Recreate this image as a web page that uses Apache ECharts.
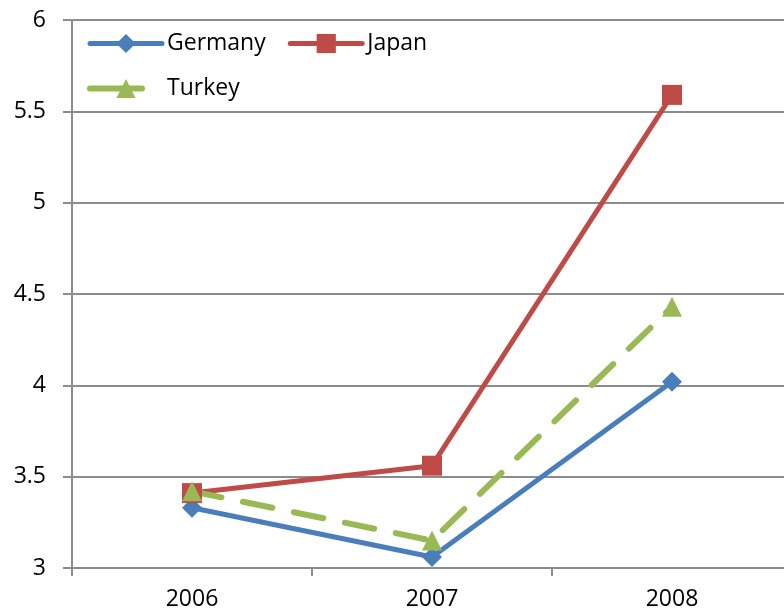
<!DOCTYPE html>
<html>
<head>
<meta charset="utf-8">
<script src="https://cdn.jsdelivr.net/npm/echarts@6/dist/echarts.min.js"></script>
<style>
  html, body { margin: 0; padding: 0; background: #fff; overflow: hidden; }
  #chart { width: 800px; height: 614px; }
</style>
</head>
<body>
<div id="chart"></div>
<script>
// Categories and series values
const years = ['2006', '2007', '2008'];
const germany = [3.33, 3.06, 4.02];
const japan = [3.41, 3.56, 5.59];
const turkey = [3.42, 3.15, 4.43];

const FONT = 'Open Sans';
const GRID_COLOR = '#8c8c8c';
const BLUE = '#4a7ebb';
const RED = '#be4b48';
const GREEN = '#98b954';

// The plot area runs a little past the right edge of the visible window
const chart = echarts.init(document.getElementById('chart'));
chart.setOption({
  backgroundColor: '#ffffff',
  animation: false,
  grid: { left: 72, right: 8, top: 20, bottom: 46, containLabel: false },
  legend: {
    left: 82,
    top: 27,
    width: 360,
    itemWidth: 72,
    itemHeight: 24,
    itemGap: 22,
    textStyle: { fontFamily: FONT, fontSize: 23, color: '#000' },
    data: [
      { name: 'Germany', lineStyle: { width: 5, color: BLUE } },
      { name: 'Japan', lineStyle: { width: 5, color: RED } },
      { name: 'Turkey', lineStyle: { width: 6, color: GREEN, type: [52, 100] } }
    ]
  },
  xAxis: {
    type: 'category',
    data: years,
    boundaryGap: true,
    axisLine: { lineStyle: { color: GRID_COLOR, width: 2 } },
    axisTick: { show: true, inside: false, length: 8, lineStyle: { color: GRID_COLOR, width: 2 } },
    axisLabel: { fontFamily: FONT, fontSize: 23, color: '#000', margin: 20 }
  },
  yAxis: {
    type: 'value',
    min: 3,
    max: 6,
    interval: 0.5,
    axisLine: { show: true, lineStyle: { color: GRID_COLOR, width: 2 } },
    axisTick: { show: true, length: 9, lineStyle: { color: GRID_COLOR, width: 2 } },
    splitLine: { show: true, lineStyle: { color: GRID_COLOR, width: 2 } },
    axisLabel: { fontFamily: FONT, fontSize: 23, color: '#000', margin: 26 }
  },
  series: [
    {
      name: 'Germany',
      type: 'line',
      data: germany,
      symbol: 'diamond',
      symbolSize: 20,
      itemStyle: { color: BLUE },
      lineStyle: { color: BLUE, width: 5, cap: 'round' }
    },
    {
      name: 'Japan',
      type: 'line',
      data: japan,
      symbol: 'rect',
      symbolSize: 20,
      itemStyle: { color: RED },
      lineStyle: { color: RED, width: 5, cap: 'round' }
    },
    {
      name: 'Turkey',
      type: 'line',
      data: turkey,
      symbol: 'triangle',
      symbolSize: 20,
      itemStyle: { color: GREEN },
      lineStyle: { color: GREEN, width: 6, type: [30, 22], cap: 'round' }
    }
  ]
});
</script>
</body>
</html>
